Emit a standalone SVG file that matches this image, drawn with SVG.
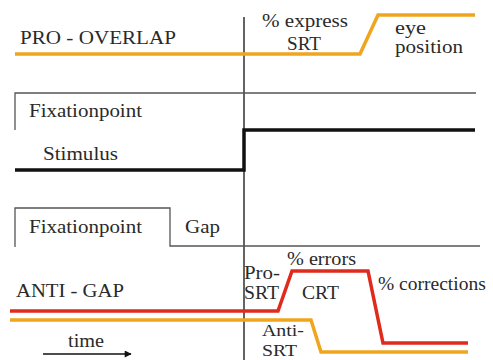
<svg xmlns="http://www.w3.org/2000/svg" width="493" height="360" viewBox="0 0 493 360">
  <style>
    text { font-family: "Liberation Serif", "Times New Roman", Times, Tinos, "Noto Serif", "DejaVu Serif", FreeSerif, serif; font-size: 19.5px; fill: #2a2a2a; }
    .small { font-size: 17px; }
    .thin { fill: none; stroke: #555; stroke-width: 1.3; }
    .black { fill: none; stroke: #111; stroke-width: 3.5; }
    .orange { fill: none; stroke: #f0a51e; stroke-width: 3.5; }
    .red { fill: none; stroke: #e02a1c; stroke-width: 3.5; }
  </style>
  <defs>
    <marker id="arrowhead" viewBox="0 0 10 10" refX="9" refY="5" markerWidth="9" markerHeight="7" orient="auto" markerUnits="userSpaceOnUse">
      <path d="M0,0 L10,5 L0,10 z" fill="#111"/>
    </marker>
  </defs>

  <!-- time axis marker at stimulus onset, and the time arrow -->
  <g id="connectors">
    <line x1="244" y1="17" x2="244" y2="360" stroke="#222" stroke-width="1.4"/>
    <line x1="43" y1="354" x2="131" y2="354" stroke="#111" stroke-width="1.5" marker-end="url(#arrowhead)"/>
  </g>

  <!-- pro saccade, overlap condition -->
  <g id="pro-overlap">
    <path class="orange" d="M15,54 H360 L378,15 H475"/>
    <text x="20" y="44" textLength="156" lengthAdjust="spacingAndGlyphs">PRO - OVERLAP</text>
    <text x="262" y="27" textLength="86" lengthAdjust="spacingAndGlyphs">% express</text>
    <text x="287" y="50" textLength="34" lengthAdjust="spacingAndGlyphs">SRT</text>
    <text x="395" y="34" textLength="31" lengthAdjust="spacingAndGlyphs">eye</text>
    <text x="395" y="53" textLength="68" lengthAdjust="spacingAndGlyphs">position</text>
  </g>

  <!-- overlap stimulus timing -->
  <g id="overlap-fixation">
    <path class="thin" d="M15,130 V93 H476"/>
    <text x="29" y="117" textLength="113" lengthAdjust="spacingAndGlyphs">Fixationpoint</text>
  </g>
  <g id="overlap-stimulus">
    <path class="black" d="M15,170 H244 V130 H475"/>
    <text x="43" y="160" textLength="75" lengthAdjust="spacingAndGlyphs">Stimulus</text>
  </g>

  <!-- gap timing -->
  <g id="gap-fixation">
    <path class="thin" d="M15,247 V208 H170 V246 H480"/>
    <text x="29" y="233" textLength="113" lengthAdjust="spacingAndGlyphs">Fixationpoint</text>
    <text x="185" y="233" textLength="35" lengthAdjust="spacingAndGlyphs">Gap</text>
  </g>

  <!-- anti saccade, gap condition -->
  <g id="anti-gap">
    <path class="red" d="M10,311 H278 L292,271 H368 L383,343 H468"/>
    <path class="orange" d="M10,320 H311 L321,352 H468"/>
    <text x="16" y="297" textLength="108" lengthAdjust="spacingAndGlyphs">ANTI - GAP</text>
    <text x="287" y="265" textLength="69" lengthAdjust="spacingAndGlyphs">% errors</text>
    <text x="244" y="279" textLength="36" lengthAdjust="spacingAndGlyphs">Pro-</text>
    <text x="244" y="299" textLength="35" lengthAdjust="spacingAndGlyphs">SRT</text>
    <text x="302" y="299" textLength="37" lengthAdjust="spacingAndGlyphs">CRT</text>
    <text x="378" y="290">% corrections</text>
    <text class="small" x="262" y="336" textLength="42" lengthAdjust="spacingAndGlyphs">Anti-</text>
    <text class="small" x="262" y="356" textLength="35" lengthAdjust="spacingAndGlyphs">SRT</text>
  </g>

  <g id="time-label">
    <text x="68" y="347" textLength="36" lengthAdjust="spacingAndGlyphs">time</text>
  </g>
</svg>
